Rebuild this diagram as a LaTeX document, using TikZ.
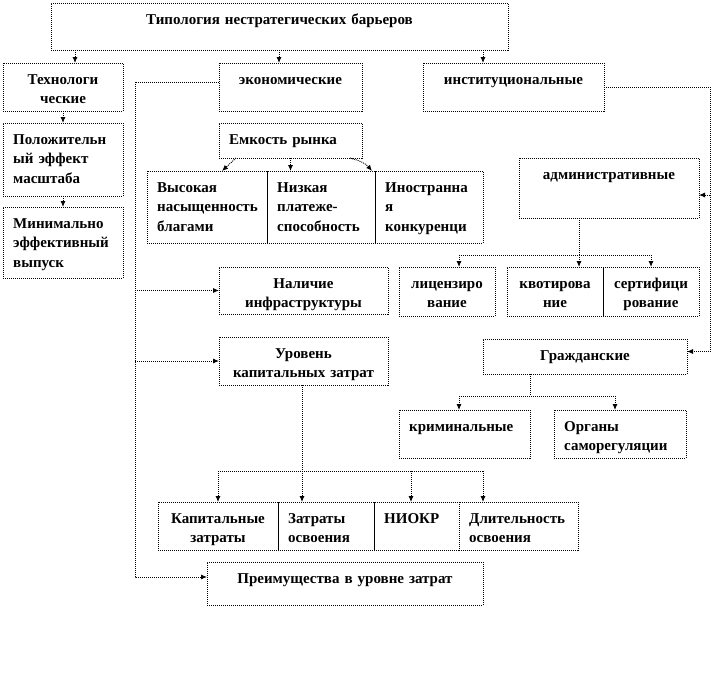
\documentclass[tikz,border=0pt]{standalone}
\usepackage{fontspec}
\setmainfont{Liberation Serif}
\usetikzlibrary{arrows.meta}
\tikzset{
  x=1pt, y=-1pt,
  box/.style={draw, dash pattern=on 1pt off 1pt, line width=0.9pt, outer sep=0pt, inner sep=0pt},
  conn/.style={draw, dash pattern=on 1pt off 1pt, line width=0.9pt},
  arr/.style={conn, -{Latex[length=6pt,width=5pt]}},
  lbl/.style={font=\fontsize{15}{19.5}\selectfont\bfseries, inner sep=0pt, text width=420pt},
  tc/.style={lbl, align=center, anchor=base},
  tl/.style={lbl, align=left, anchor=base west},
}
% centered text box: name, x1, y1, x2, y2, text
\newcommand\bxc[6]{%
  \node[box, anchor=north west, minimum width=#4pt-#2pt, minimum height=#5pt-#3pt] (#1) at (#2,#3) {};
  \node[tc] (#1t) at ([yshift=-21pt]#1.north) {#6};}
% left-aligned text box
\newcommand\bxl[6]{%
  \node[box, anchor=north west, minimum width=#4pt-#2pt, minimum height=#5pt-#3pt] (#1) at (#2,#3) {};
  \node[tl] (#1t) at ([xshift=10pt,yshift=-21pt]#1.north west) {#6};}
\begin{document}
\begin{tikzpicture}
\fill[white] (0,0) rectangle (712,675);
\useasboundingbox (0,0) rectangle (712,675);

\bxc{top}{51}{3}{508}{50}{Типология нестратегических барьеров}
\bxc{tech}{3}{63}{123}{111}{Технологи\\ческие}
\bxc{econ}{219}{63}{362}{111}{экономические}
\bxc{inst}{423}{63}{604}{111}{институциональные}
\bxl{pos}{3}{123}{123}{196}{Положительн\\ый эффект\\масштаба}
\bxl{min}{3}{207}{123}{278}{Минимально\\эффективный\\выпуск}
\bxl{emk}{219}{123}{362}{158}{Емкость рынка}
\bxl{vys}{147}{171}{267}{243}{Высокая\\насыщенность\\благами}
\bxl{niz}{267}{171}{375}{243}{Низкая\\платеже-\\способность}
\bxl{ino}{375}{171}{483}{243}{Иностранна\\я\\конкуренци}
\bxc{adm}{519}{158}{699}{218}{административные}
\bxc{nal}{219}{267}{388}{314}{Наличие\\инфраструктуры}
\bxc{lic}{399}{267}{495}{316}{лицензиро\\вание}
\bxc{kvo}{507}{267}{603}{316}{квотирова\\ние}
\bxc{ser}{603}{267}{699}{316}{сертифици\\рование}
\bxc{ur}{219}{337}{388}{385}{Уровень\\капитальных затрат}
\bxc{gr}{483}{339}{687}{374}{Гражданские}
\bxl{krim}{399}{410}{530}{458}{криминальные}
\bxl{org}{554}{410}{686}{458}{Органы\\саморегуляции}
\bxc{kap}{158}{502}{278}{550}{Капитальные\\затраты}
\bxl{zat}{278}{502}{374}{550}{Затраты\\освоения}
\bxl{niokr}{374}{502}{459}{550}{НИОКР}
\bxl{dlit}{459}{502}{578}{550}{Длительность\\освоения}
\bxc{preim}{207}{562}{483}{605}{Преимущества в уровне затрат}

\coordinate (sp) at (135,0);
\coordinate (rs) at (710,0);
\coordinate (hadm) at (0,255);
\coordinate (hgr) at (0,396);
\coordinate (hur) at (0,471);

% top level
\draw[arr] ([xshift=12pt]tech.north |- top.south) -- ([xshift=12pt]tech.north);
\draw[arr] ([xshift=-11.5pt]econ.north |- top.south) -- ([xshift=-11.5pt]econ.north);
\draw[arr] ([xshift=-30.5pt]inst.north |- top.south) -- ([xshift=-30.5pt]inst.north);
\draw[arr] (tech.south) -- (pos.north);
\draw[arr] (pos.south) -- (min.north);

% economic spine
\draw[arr] ([yshift=5pt]econ.west) -- ([yshift=5pt]econ.west -| sp) -- ([yshift=6.5pt]preim.west -| sp) -- ([yshift=6.5pt]preim.west);
\draw[arr] (nal.west -| sp) -- (nal.west);
\draw[arr] (ur.west -| sp) -- (ur.west);

% market capacity
\draw[arr] ([xshift=17pt]emk.south west) -- ([xshift=75pt]vys.north west);
\draw[arr] (emk.south) -- (emk.south |- niz.north);
\draw[arr] ([xshift=-12pt]emk.south east) to[out=-15,in=130] ([xshift=-3pt]ino.north west);

% institutional
\draw[arr] (inst.east) -- (inst.east -| rs) -- ([yshift=5pt]gr.east -| rs) -- ([yshift=5pt]gr.east);
\draw[arr] ([yshift=-7pt]adm.east -| rs) -- ([yshift=-7pt]adm.east);

% administrative
\draw[conn] ([xshift=-30pt]adm.south) -- ([xshift=-30pt]adm.south |- hadm);
\draw[conn] ([xshift=12pt]lic.north |- hadm) -- (ser.north |- hadm);
\draw[arr] ([xshift=12pt]lic.north |- hadm) -- ([xshift=12pt]lic.north);
\draw[arr] ([xshift=24pt]kvo.north |- hadm) -- ([xshift=24pt]kvo.north);
\draw[arr] (ser.north |- hadm) -- (ser.north);

% civil
\draw[conn] ([xshift=-55pt]gr.south) -- ([xshift=-55pt]gr.south |- hgr);
\draw[conn] ([xshift=-5.5pt]krim.north |- hgr) -- ([xshift=-5pt]org.north |- hgr);
\draw[arr] ([xshift=-5.5pt]krim.north |- hgr) -- ([xshift=-5.5pt]krim.north);
\draw[arr] ([xshift=-5pt]org.north |- hgr) -- ([xshift=-5pt]org.north);

% capital costs
\draw[arr] ([xshift=-24pt]zat.north |- ur.south) -- ([xshift=-24pt]zat.north);
\draw[conn] (kap.north |- hur) -- ([xshift=-35.5pt]dlit.north |- hur);
\draw[arr] (kap.north |- hur) -- (kap.north);
\draw[arr] ([xshift=-5.5pt]niokr.north |- hur) -- ([xshift=-5.5pt]niokr.north);
\draw[arr] ([xshift=-35.5pt]dlit.north |- hur) -- ([xshift=-35.5pt]dlit.north);
\end{tikzpicture}
\end{document}
